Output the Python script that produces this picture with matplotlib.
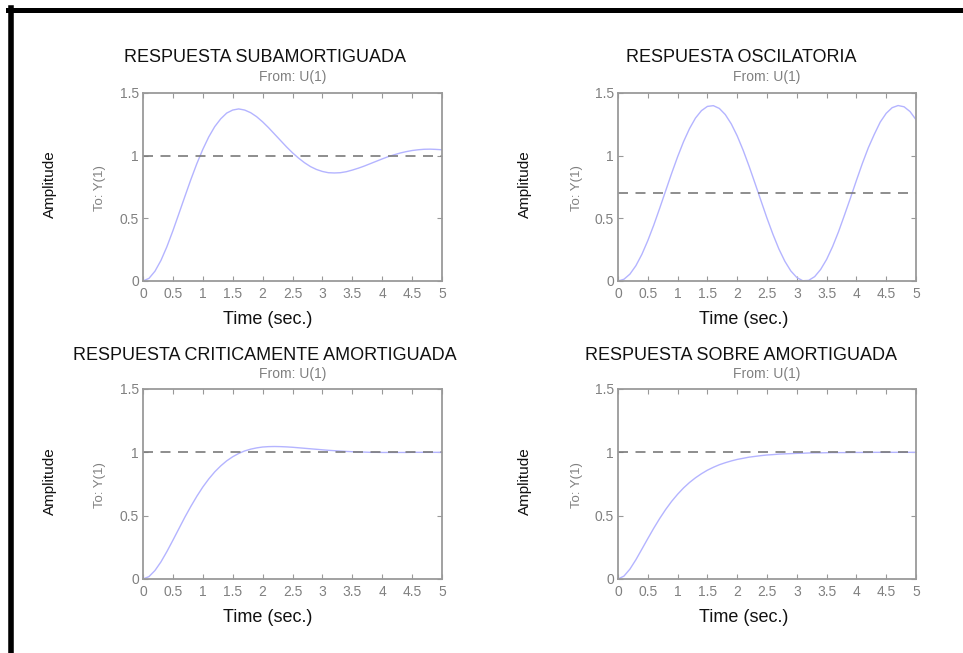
import matplotlib
matplotlib.use("Agg")
import matplotlib.pyplot as plt
from matplotlib.lines import Line2D

plt.rcParams['font.family'] = ['Liberation Sans', 'DejaVu Sans']

# time samples (s)
t = [0.0, 0.1, 0.2, 0.3, 0.4, 0.5, 0.6, 0.7, 0.8, 0.9,
     1.0, 1.1, 1.2, 1.3, 1.4, 1.5, 1.6, 1.7, 1.8, 1.9,
     2.0, 2.1, 2.2, 2.3, 2.4, 2.5, 2.6, 2.7, 2.8, 2.9,
     3.0, 3.1, 3.2, 3.3, 3.4, 3.5, 3.6, 3.7, 3.8, 3.9,
     4.0, 4.1, 4.2, 4.3, 4.4, 4.5, 4.6, 4.7, 4.8, 4.9, 5.0]

# values
y_sub = [0.000, 0.021, 0.078, 0.164, 0.274, 0.401, 0.537, 0.674, 0.809, 0.936,
         1.050, 1.150, 1.232, 1.294, 1.340, 1.364, 1.373, 1.364, 1.343, 1.311,
         1.270, 1.223, 1.172, 1.121, 1.070, 1.023, 0.981, 0.944, 0.913, 0.890,
         0.874, 0.864, 0.862, 0.864, 0.872, 0.885, 0.900, 0.917, 0.936, 0.955,
         0.974, 0.992, 1.007, 1.021, 1.032, 1.041, 1.047, 1.051, 1.052, 1.050, 1.047]
y_osc = [0.000, 0.014, 0.055, 0.122, 0.212, 0.322, 0.446, 0.581, 0.720, 0.859,
         0.991, 1.112, 1.216, 1.300, 1.359, 1.393, 1.399, 1.377, 1.328, 1.254,
         1.158, 1.043, 0.915, 0.778, 0.639, 0.501, 0.372, 0.255, 0.157, 0.080,
         0.028, 0.002, 0.005, 0.035, 0.092, 0.172, 0.274, 0.393, 0.526, 0.662,
         0.802, 0.938, 1.063, 1.170, 1.268, 1.338, 1.383, 1.400, 1.390, 1.352, 1.287]
y_crit = [0.000, 0.019, 0.067, 0.135, 0.217, 0.306, 0.397, 0.488, 0.573, 0.653,
          0.726, 0.790, 0.846, 0.893, 0.933, 0.965, 0.991, 1.011, 1.025, 1.035,
          1.042, 1.045, 1.046, 1.045, 1.043, 1.040, 1.036, 1.032, 1.028, 1.024,
          1.020, 1.016, 1.013, 1.010, 1.007, 1.005, 1.003, 1.002, 1.000, 1.000,
          0.999, 0.999, 0.999, 0.999, 0.999, 1.000, 1.000, 1.000, 1.000, 1.000, 1.000]
y_over = [0.000, 0.023, 0.078, 0.152, 0.235, 0.319, 0.401, 0.478, 0.549, 0.613,
          0.669, 0.719, 0.762, 0.799, 0.831, 0.859, 0.882, 0.902, 0.918, 0.932,
          0.944, 0.953, 0.962, 0.968, 0.974, 0.979, 0.982, 0.986, 0.988, 0.990,
          0.992, 0.993, 0.995, 0.996, 0.996, 0.997, 0.998, 0.998, 0.998, 0.999,
          0.999, 0.999, 0.999, 1.000, 1.000, 1.000, 1.000, 1.000, 1.000, 1.000, 1.000]

series = [y_sub, y_osc, y_crit, y_over]
final_values = [1.0, 0.7, 1.0, 1.0]
titles = ["RESPUESTA SUBAMORTIGUADA", "RESPUESTA OSCILATORIA",
          "RESPUESTA CRITICAMENTE AMORTIGUADA", "RESPUESTA SOBRE AMORTIGUADA"]
x_ticks = [0, 0.5, 1, 1.5, 2, 2.5, 3, 3.5, 4, 4.5, 5]
x_ticklabels = ["0", "0.5", "1", "1.5", "2", "2.5", "3", "3.5", "4", "4.5", "5"]
y_ticks = [0, 0.5, 1, 1.5]
y_ticklabels = ["0", "0.5", "1", "1.5"]

W, H = 963, 653
fig = plt.figure(figsize=(W / 100, H / 100), dpi=100)
fig.patch.set_facecolor('white')

def fx(px):
    return px / W

def fy(py):
    return 1 - py / H

# frame lines (top and left)
fig.add_artist(Line2D([fx(8), fx(963)], [fy(9.5), fy(9.5)], color='black', lw=3.6,
                      transform=fig.transFigure))
fig.add_artist(Line2D([fx(10.5), fx(10.5)], [fy(8), fy(653)], color='black', lw=4.0,
                      transform=fig.transFigure))

panels = [
    dict(left=143, right=442, top=93, bottom=281, title_x=265, title_y=57,
         from_y=77, time_y=320, amp_x=50, to_x=100),
    dict(left=618, right=916, top=93, bottom=281, title_x=741, title_y=57,
         from_y=77, time_y=320, amp_x=525, to_x=577),
    dict(left=143, right=442, top=389, bottom=579, title_x=265, title_y=355,
         from_y=374, time_y=617, amp_x=50, to_x=100),
    dict(left=618, right=916, top=389, bottom=579, title_x=741, title_y=355,
         from_y=374, time_y=617, amp_x=525, to_x=577),
]

gray = '#808080'
for p, y, yf, title in zip(panels, series, final_values, titles):
    ax = fig.add_axes([fx(p['left']), fy(p['bottom']),
                       fx(p['right'] - p['left']), (p['bottom'] - p['top']) / H])
    ax.plot(t, y, color='#b4b4ff', lw=1.0)
    ax.axhline(yf, color='#7a7a7a', lw=1.2, ls=(0, (6, 4.5)))
    ax.set_xlim(0, 5)
    ax.set_ylim(0, 1.5)
    ax.set_xticks(x_ticks)
    ax.set_xticklabels(x_ticklabels)
    ax.set_yticks(y_ticks)
    ax.set_yticklabels(y_ticklabels)
    ax.tick_params(direction='in', length=3.5, width=0.8, colors='#999999',
                   labelcolor=gray, labelsize=10, top=True, right=True)
    ax.tick_params(axis='x', pad=4)
    ax.tick_params(axis='y', pad=3)
    for s in ax.spines.values():
        s.set_color('#9a9a9a')
        s.set_linewidth(1.3)
    cx = (p['left'] + p['right']) / 2
    fig.text(fx(p['title_x']), fy(p['title_y']), title, ha='center', va='center',
             fontsize=13, color='#111111')
    fig.text(fx(cx), fy(p['from_y']), "From: U(1)", ha='center', va='center',
             fontsize=10, color=gray)
    fig.text(fx(p['title_x'] + 3), fy(p['time_y']), "Time (sec.)", ha='center',
             va='center', fontsize=13, color='#111111')
    ymid = (p['top'] + p['bottom']) / 2
    fig.text(fx(p['amp_x']), fy(ymid - 3), "Amplitude", ha='center', va='center',
             rotation=90, fontsize=11, color='#111111')
    fig.text(fx(p['to_x']), fy(ymid + 1), "To: Y(1)", ha='center', va='center',
             rotation=90, fontsize=9.5, color=gray)

fig.savefig("out.png", dpi=100, facecolor='white')
